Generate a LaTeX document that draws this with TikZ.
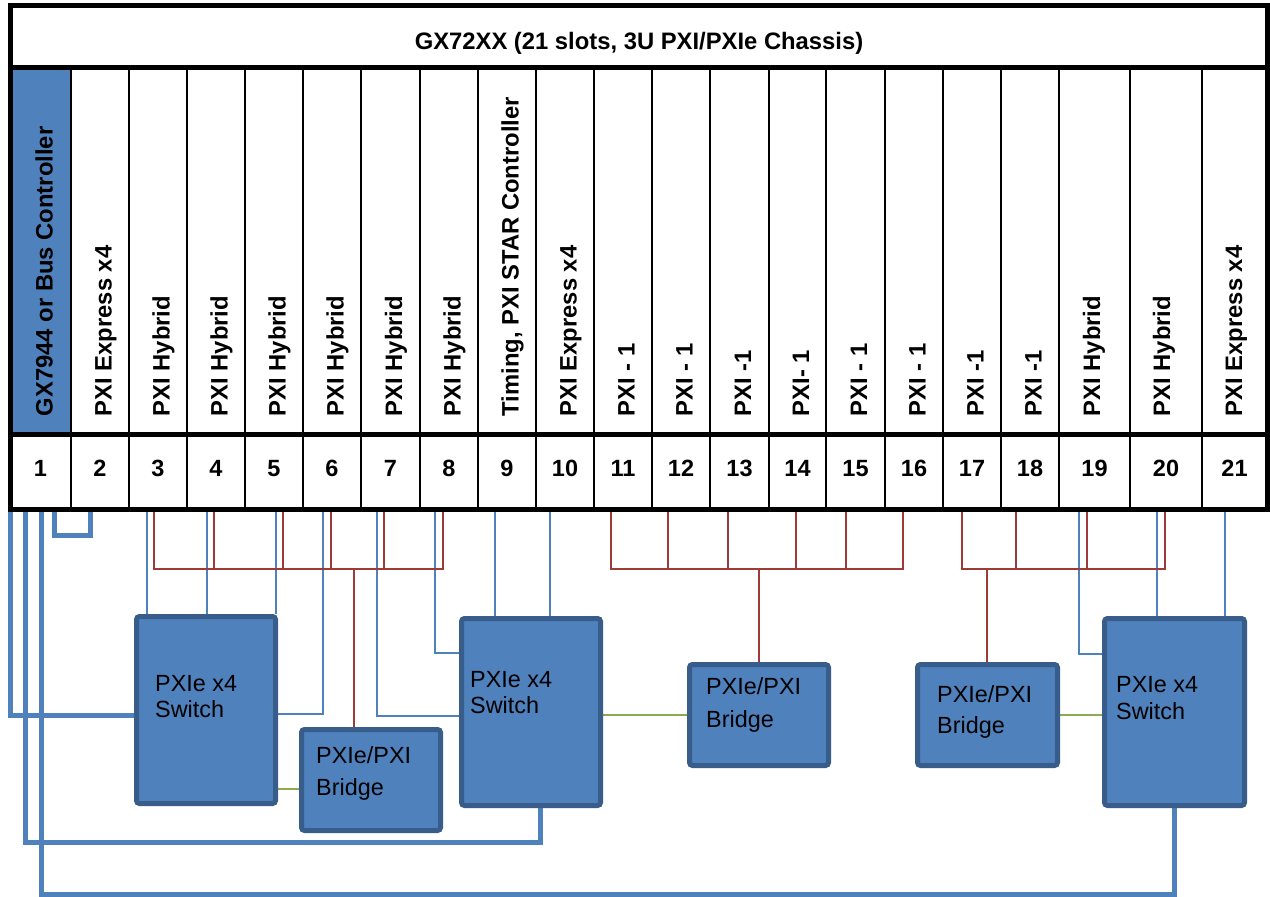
\documentclass[tikz,border=0pt]{standalone}
\usepackage{fontspec}
\setmainfont{Liberation Sans}
\usetikzlibrary{calc}
\pgfdeclarelayer{background}
\pgfsetlayers{background,main}
\definecolor{boxfill}{HTML}{4F81BD}
\definecolor{boxborder}{HTML}{385D8A}
\definecolor{wireblue}{HTML}{4F81BD}
\definecolor{wirered}{HTML}{9C3B38}
\definecolor{wiregreen}{HTML}{8CAA4E}
\begin{document}
\begin{tikzpicture}[x=1pt,y=-1pt,
  thickrule/.style={line width=5pt},
  thinrule/.style={line width=2pt},
  slothdr/.style={rotate=90,anchor=base west,inner sep=0pt,font=\fontsize{23.8}{28}\selectfont\bfseries},
  slotnum/.style={anchor=base,inner sep=0pt,font=\fontsize{23.5}{28}\selectfont\bfseries},
  modbox/.style={draw=boxborder,fill=boxfill,line width=5pt,rounded corners=3pt,minimum width=139pt,inner sep=0pt},
  modtext/.style={anchor=base west,inner sep=0pt,font=\fontsize{23.4}{28}\selectfont},
  bluewire/.style={draw=wireblue,line width=2pt},
  redwire/.style={draw=wirered,line width=2pt},
  greenwire/.style={draw=wiregreen,line width=2pt},
  thickwire/.style={draw=wireblue,line width=5pt},
]
\useasboundingbox (0,0) rectangle (1270,897);
\begin{pgfonlayer}{background}
  \fill[white] (0,0) rectangle (1270,897);
\end{pgfonlayer}

% ---------- chassis table ----------
\fill[boxfill] (12.5,69.5) rectangle (70,431.5);
\foreach \x in {71,129,187,245,303,361,420,478,536,594,652,710,769,826,885,943,1001,1059,1130,1202}
  \draw[thinrule] (\x,67) -- (\x,509.5);
\draw[thickrule] (10,67) -- (1267.5,67);
\draw[thickrule] (10,434) -- (1267.5,434);
\draw[thickrule] (10,5) rectangle (1267.5,509.5);

\node[anchor=base,inner sep=0pt,font=\fontsize{23.8}{28}\selectfont\bfseries] (title) at (639,49) {GX72XX (21 slots, 3U PXI/PXIe Chassis)};

\node[slothdr] (h1) at (52.5,416.5) {GX7944 or Bus Controller};
\node[slothdr] (h2) at (111.5,416.5) {PXI Express x4};
\node[slothdr] (h3) at (169.5,416.5) {PXI Hybrid};
\node[slothdr] (h4) at (227.5,416.5) {PXI Hybrid};
\node[slothdr] (h5) at (285.5,416.5) {PXI Hybrid};
\node[slothdr] (h6) at (343.5,416.5) {PXI Hybrid};
\node[slothdr] (h7) at (402,416.5) {PXI Hybrid};
\node[slothdr] (h8) at (460.5,416.5) {PXI Hybrid};
\node[slothdr] (h9) at (518.5,416.5) {Timing, PXI STAR Controller};
\node[slothdr] (h10) at (576.5,416.5) {PXI Express x4};
\node[slothdr] (h11) at (634.5,416.5) {PXI - 1};
\node[slothdr] (h12) at (692.5,416.5) {PXI - 1};
\node[slothdr] (h13) at (751,416.5) {PXI -1};
\node[slothdr] (h14) at (809,416.5) {PXI- 1};
\node[slothdr] (h15) at (867,416.5) {PXI - 1};
\node[slothdr] (h16) at (925.5,416.5) {PXI - 1};
\node[slothdr] (h17) at (983.5,416.5) {PXI -1};
\node[slothdr] (h18) at (1041.5,416.5) {PXI -1};
\node[slothdr] (h19) at (1100,416.5) {PXI Hybrid};
\node[slothdr] (h20) at (1170,416.5) {PXI Hybrid};
\node[slothdr] (h21) at (1242,416.5) {PXI Express x4};

\foreach \n/\x in {1/40.5,2/100,3/158,4/216,5/274,6/332,7/390.5,8/449,9/507,10/565,11/623,12/681,13/739.5,14/797.5,15/855.5,16/914,17/972,18/1030,19/1094.5,20/1166,21/1234.5}
  \node[slotnum] (n\n) at (\x,476.5) {\n};

% ---------- modules ----------
\node[modbox,minimum height=187pt] (s1) at (206,710) {};
\node[modbox,minimum height=101pt] (br1) at (371,780) {};
\node[modbox,minimum height=187pt] (s2) at (531,712) {};
\node[modbox,minimum height=101pt] (br2) at (759,715) {};
\node[modbox,minimum height=101pt,minimum width=140pt] (br3) at (987.5,715) {};
\node[modbox,minimum height=187pt,minimum width=140pt] (s3) at (1174.5,712) {};

\node[modtext] (s1a) at (155,691) {PXIe x4};
\node[modtext] (s1b) at (155,717) {Switch};
\node[modtext] (br1a) at (316,763) {PXIe/PXI};
\node[modtext] (br1b) at (316,795) {Bridge};
\node[modtext] (s2a) at (470,687) {PXIe x4};
\node[modtext] (s2b) at (470,713) {Switch};
\node[modtext] (br2a) at (706,694) {PXIe/PXI};
\node[modtext] (br2b) at (706,727) {Bridge};
\node[modtext] (br3a) at (937,702) {PXIe/PXI};
\node[modtext] (br3b) at (937,733) {Bridge};
\node[modtext] (s3a) at (1116,692) {PXIe x4};
\node[modtext] (s3b) at (1116,719) {Switch};

% ---------- connector end points at the chassis ----------
\coordinate (a1) at (10,510);
\coordinate (a2) at (25,510);
\coordinate (a3) at (41,510);
\coordinate (lp1) at (54,510);
\coordinate (lp2) at (90,510);
\foreach \n/\x in {3/147,4/207,5/276,6/323,7/377,8/435,9/495,10/550,19/1079,20/1157,21/1225}
  \coordinate (bl\n) at (\x,510);
\foreach \n/\x in {3/154,4/214,5/283,6/331,7/384,8/443,11/611,12/668,13/728,14/796,15/846,16/903,17/962,18/1016,19/1087,20/1165}
  \coordinate (rd\n) at (\x,510);
\coordinate (ra) at (354,569);
\coordinate (rb) at (759,569);
\coordinate (rc) at (987,569);
\coordinate (k1) at (540,842);
\coordinate (k2) at (1174,894);
\coordinate (e1) at ($(s1.west)+(0,5)$);
\coordinate (e6) at ($(s1.east)+(0,4)$);
\coordinate (e7) at ($(s2.west)+(0,4)$);
\coordinate (e8) at ($(s2.west)+(0,-59)$);
\coordinate (e19) at ($(s3.west)+(0,-58)$);
\coordinate (gg1) at ($(br1.west)+(0,9)$);

\begin{pgfonlayer}{background}
  % thick controller links
  \draw[thickwire] (a1) |- (e1);
  \draw[thickwire] (a2) |- (k1) -- (k1 |- s2.south);
  \draw[thickwire] (a3) |- (k2) -- (k2 |- s3.south);
  \draw[thickwire] (lp1) -- ++(0,25) -| (lp2);
  % thin blue PCIe links
  \draw[bluewire] (bl3) -- (bl3 |- s1.north);
  \draw[bluewire] (bl4) -- (bl4 |- s1.north);
  \draw[bluewire] (bl5) -- (bl5 |- s1.north);
  \draw[bluewire] (bl6) |- (e6);
  \draw[bluewire] (bl7) |- (e7);
  \draw[bluewire] (bl8) |- (e8);
  \draw[bluewire] (bl9) -- (bl9 |- s2.north);
  \draw[bluewire] (bl10) -- (bl10 |- s2.north);
  \draw[bluewire] (bl19) |- (e19);
  \draw[bluewire] (bl20) -- (bl20 |- s3.north);
  \draw[bluewire] (bl21) -- (bl21 |- s3.north);
  % red PXI buses
  \draw[redwire] (rd3) |- (ra) -| (rd8);
  \foreach \n in {4,5,6,7} \draw[redwire] (rd\n) -- (rd\n |- ra);
  \draw[redwire] (ra) -- (ra |- br1.north);
  \draw[redwire] (rd11) |- (rb) -| (rd16);
  \foreach \n in {12,13,14,15} \draw[redwire] (rd\n) -- (rd\n |- rb);
  \draw[redwire] (rb) -- (br2.north);
  \draw[redwire] (rd17) |- (rc) -| (rd20);
  \foreach \n in {18,19} \draw[redwire] (rd\n) -- (rd\n |- rc);
  \draw[redwire] (rc) -- (rc |- br3.north);
  % green switch-bridge links
  \draw[greenwire] (gg1) -- (gg1 -| s1.east);
  \draw[greenwire] (br2.west) -- (br2.west -| s2.east);
  \draw[greenwire] (br3.east) -- (br3.east -| s3.west);
\end{pgfonlayer}
\end{tikzpicture}
\end{document}
